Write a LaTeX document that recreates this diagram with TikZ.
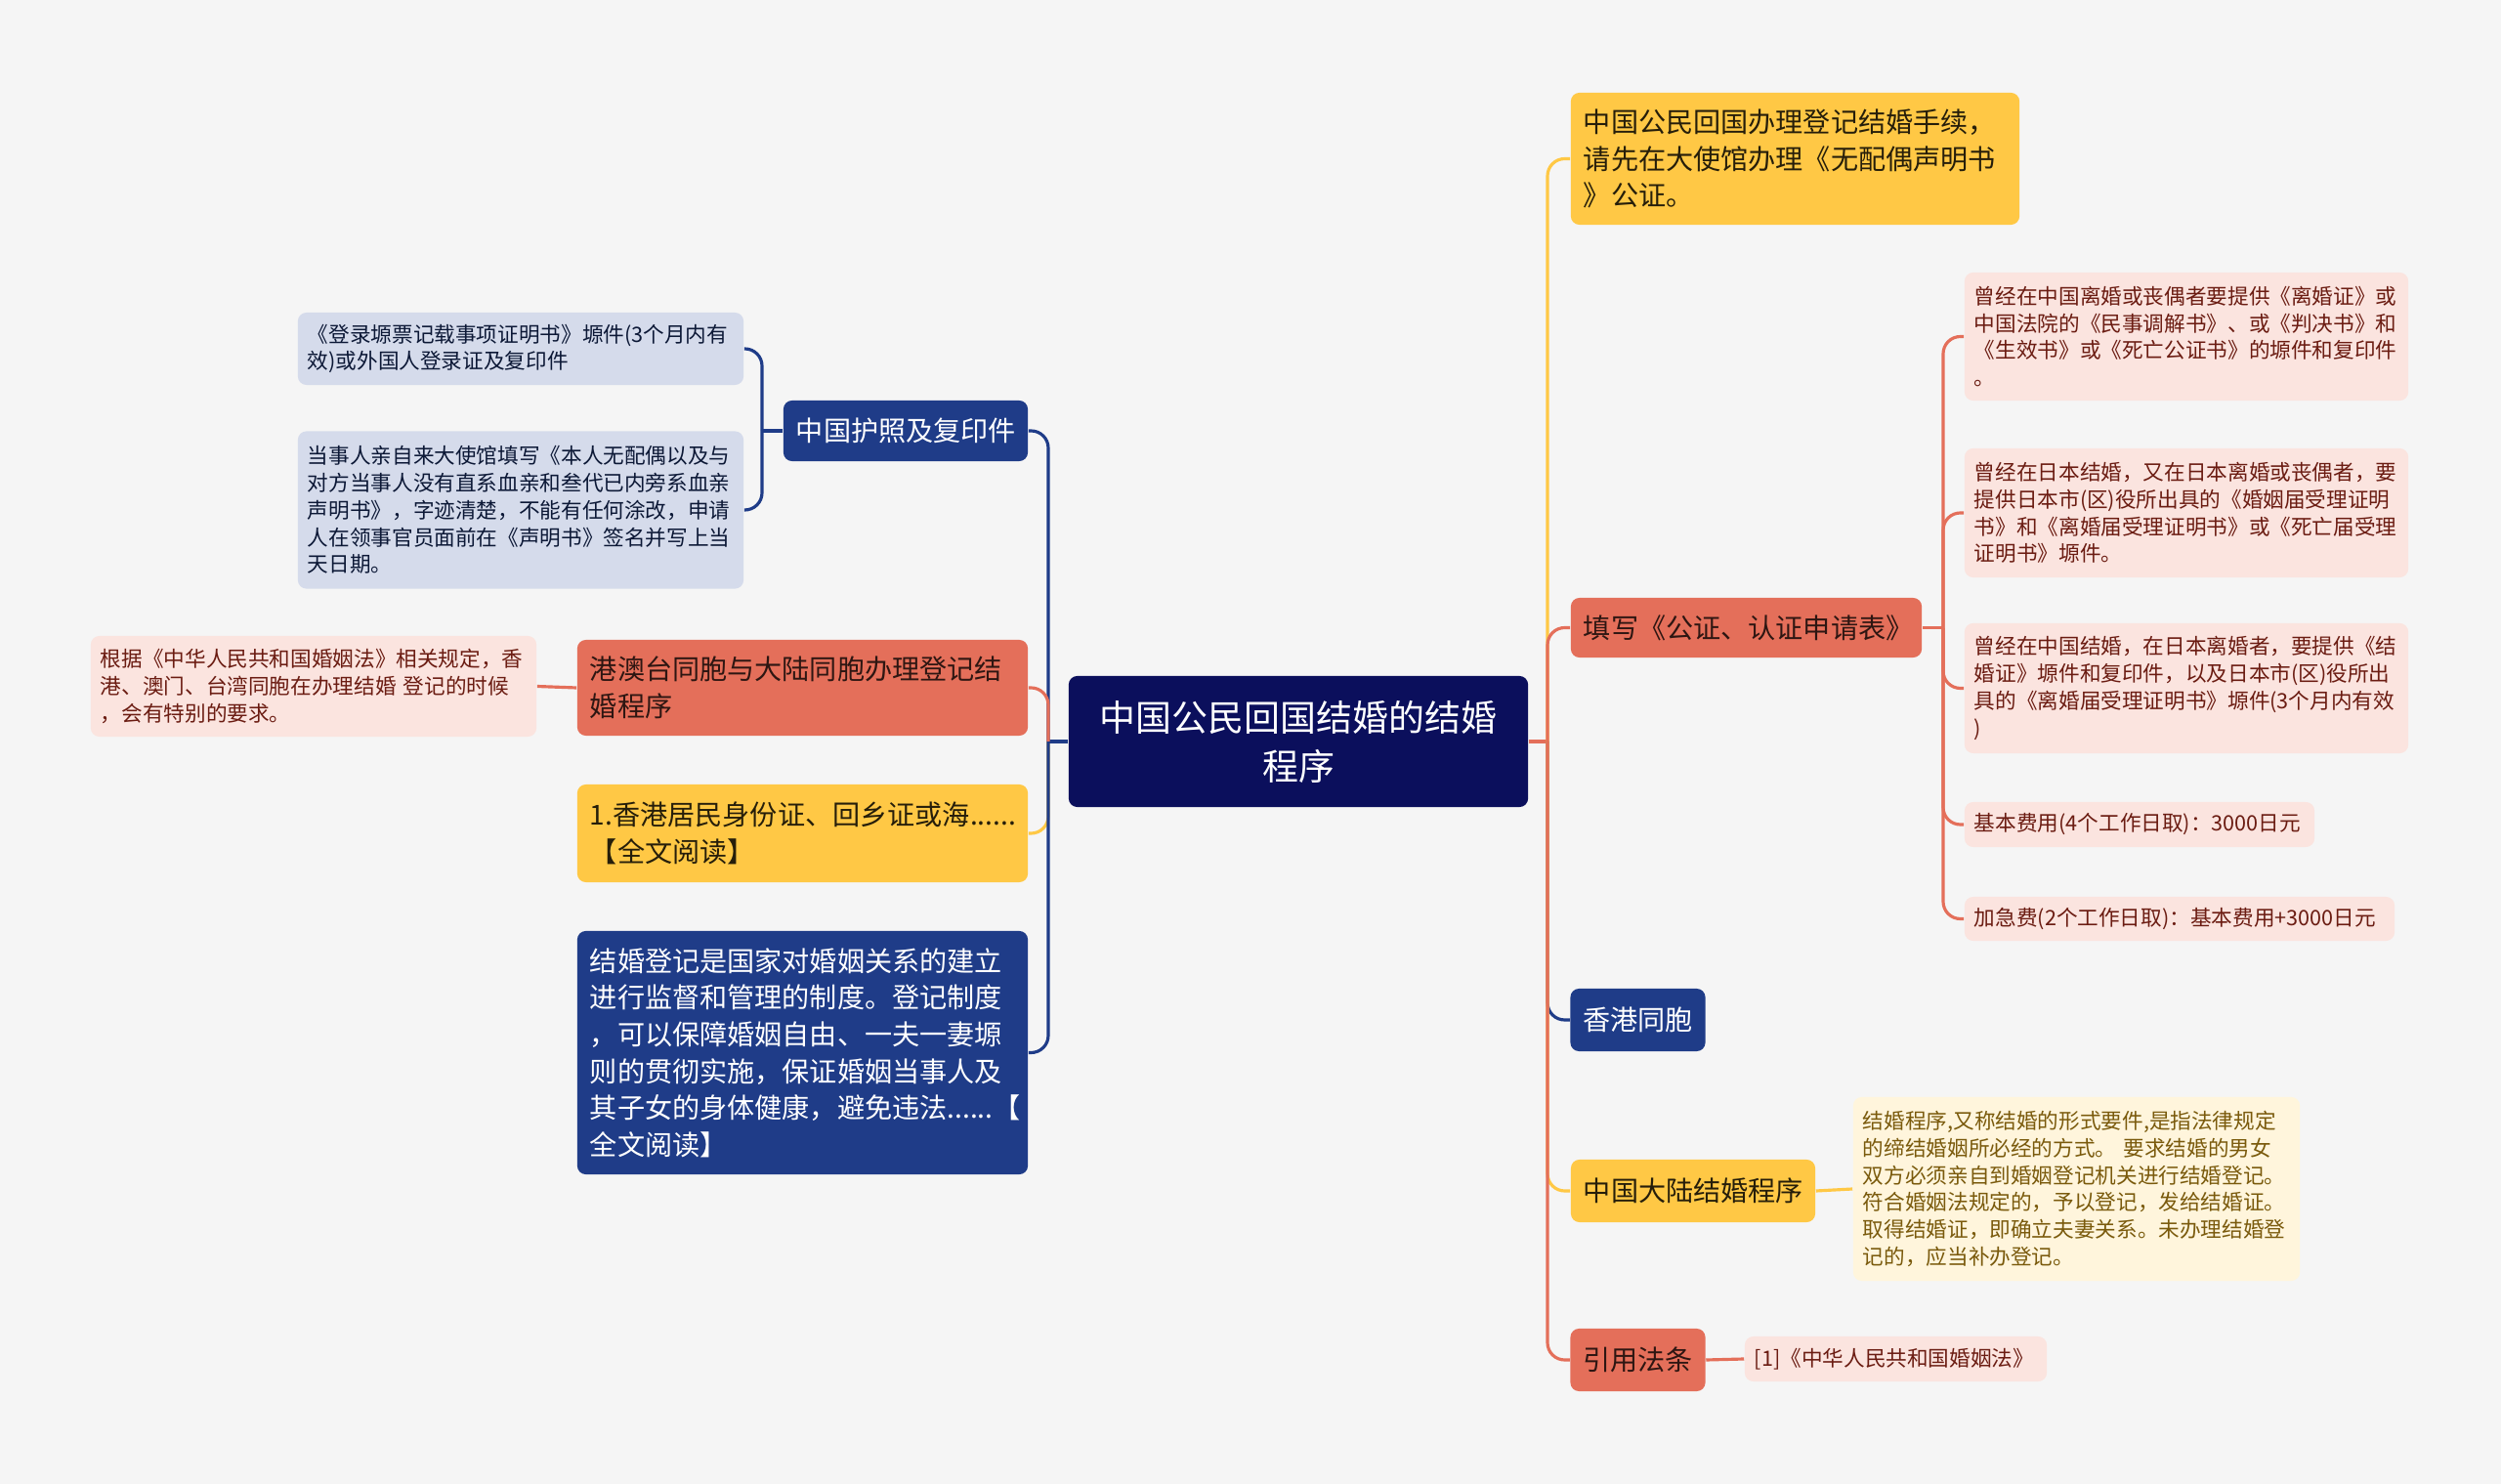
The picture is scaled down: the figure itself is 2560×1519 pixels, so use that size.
\documentclass[tikz,border=0pt]{standalone}
\usepackage{fontspec}
\setmainfont{Noto Sans CJK SC}
\usepackage{tikz}
\definecolor{mmbg}{HTML}{F5F5F5}
\definecolor{mmroot}{HTML}{0B0F5C}
\definecolor{mmblue}{HTML}{1F3C88}
\definecolor{mmsalmon}{HTML}{E46F5A}
\definecolor{mmyellow}{HTML}{FFC845}
\definecolor{mmbluelt}{HTML}{D5DBEB}
\definecolor{mmpinklt}{HTML}{FBE4DF}
\definecolor{mmyellt}{HTML}{FFF5DC}
\definecolor{mmpinktx}{HTML}{6B1C12}
\definecolor{mmyeltx}{HTML}{7A5A0C}

\begin{document}
\begin{tikzpicture}[x=0.01cm,y=-0.01cm,
  box/.style={rounded corners=2.5pt,align=left,anchor=center},
  fm/.style={font=\fontsize{8}{10.7}\selectfont,inner xsep=0.13cm,inner ysep=0pt},
  fs/.style={font=\fontsize{6.15}{7.9}\selectfont,inner xsep=0.1cm,inner ysep=0pt},
  rt/.style={box,align=center,fill=mmroot,text=white,inner xsep=0.1cm,inner ysep=0pt,
    font=\fontsize{10.5}{14.2}\selectfont},
  blu/.style={box,fm,fill=mmblue,text=white},
  sal/.style={box,fm,fill=mmsalmon,text=black!80!mmsalmon},
  yel/.style={box,fm,fill=mmyellow,text=black!85!mmyellow},
  lb/.style={box,fs,fill=mmbluelt,text=mmblue!40!black},
  lp/.style={box,fs,fill=mmpinklt,text=mmpinktx},
  ly/.style={box,fs,fill=mmyellt,text=mmyeltx},
  ln/.style={line width=0.9pt,rounded corners=5pt}]
  \fill[mmbg] (0,0) rectangle (2560,1519);
  \useasboundingbox (0,0) rectangle (2560,1519);
  % centre
  \node[rt,text width=4.5cm,minimum height=1.34cm] (root) at (1329,759)
    {中国公民回国结婚的结婚\\程序};
  % left side
  \node[blu,text width=2.24cm,minimum height=0.62cm] (hz) at (927,441) {中国护照及复印件};
  \node[lb,text width=4.36cm,minimum height=0.74cm] (hz1) at (533,357)
    {《登录塬票记载事项证明书》塬件(3个月内有\\效)或外国人登录证及复印件};
  \node[lb,text width=4.36cm,minimum height=1.61cm] (hz2) at (533,522)
    {当事人亲自来大使馆填写《本人无配偶以及与\\对方当事人没有直系血亲和叁代已内旁系血亲\\声明书》，字迹清楚，不能有任何涂改，申请\\人在领事官员面前在《声明书》签名并写上当\\天日期。};
  \node[sal,text width=4.35cm,minimum height=0.98cm] (gat) at (821.5,704)
    {港澳台同胞与大陆同胞办理登记结\\婚程序};
  \node[lp,text width=4.36cm,minimum height=1.03cm] (gat1) at (321,702.5)
    {根据《中华人民共和国婚姻法》相关规定，香\\港、澳门、台湾同胞在办理结婚 登记的时候\\，会有特别的要求。};
  \node[yel,text width=4.35cm,minimum height=1.0cm] (xg) at (821.5,853)
    {1.香港居民身份证、回乡证或海......\\【全文阅读】};
  \node[blu,text width=4.35cm,minimum height=2.49cm] (jh) at (821.5,1077.5)
    {结婚登记是国家对婚姻关系的建立\\进行监督和管理的制度。登记制度\\，可以保障婚姻自由、一夫一妻塬\\则的贯彻实施，保证婚姻当事人及\\其子女的身体健康，避免违法......【\\全文阅读】};
  % right side
  \node[yel,text width=4.33cm,minimum height=1.35cm] (gz) at (1837.5,162.5)
    {中国公民回国办理登记结婚手续，\\请先在大使馆办理《无配偶声明书\\》公证。};
  \node[sal,text width=3.33cm,minimum height=0.61cm] (tx) at (1787.5,642.5)
    {填写《公证、认证申请表》};
  \node[lp,text width=4.34cm,minimum height=1.31cm] (tx1) at (2238,344.5)
    {曾经在中国离婚或丧偶者要提供《离婚证》或\\中国法院的《民事调解书》、或《判决书》和\\《生效书》或《死亡公证书》的塬件和复印件\\。};
  \node[lp,text width=4.34cm,minimum height=1.32cm] (tx2) at (2238,525)
    {曾经在日本结婚，又在日本离婚或丧偶者，要\\提供日本市(区)役所出具的《婚姻届受理证明\\书》和《离婚届受理证明书》或《死亡届受理\\证明书》塬件。};
  \node[lp,text width=4.34cm,minimum height=1.33cm] (tx3) at (2238,704.5)
    {曾经在中国结婚，在日本离婚者，要提供《结\\婚证》塬件和复印件，以及日本市(区)役所出\\具的《离婚届受理证明书》塬件(3个月内有效\\)};
  \node[lp,text width=3.38cm,minimum height=0.46cm] (tx4) at (2190,844)
    {基本费用(4个工作日取)：3000日元};
  \node[lp,text width=4.2cm,minimum height=0.45cm] (tx5) at (2231,940.5)
    {加急费(2个工作日取)：基本费用+3000日元};
  \node[blu,text width=1.12cm,minimum height=0.64cm] (hk) at (1676.5,1044) {香港同胞};
  \node[yel,text width=2.24cm,minimum height=0.64cm] (dl) at (1733,1219) {中国大陆结婚程序};
  \node[ly,text width=4.37cm,minimum height=1.88cm] (dl1) at (2125.5,1217)
    {结婚程序,又称结婚的形式要件,是指法律规定\\的缔结婚姻所必经的方式。 要求结婚的男女\\双方必须亲自到婚姻登记机关进行结婚登记。\\符合婚姻法规定的，予以登记，发给结婚证。\\取得结婚证，即确立夫妻关系。未办理结婚登\\记的，应当补办登记。};
  \node[sal,text width=1.12cm,minimum height=0.64cm] (yy) at (1676.5,1392) {引用法条};
  \node[lp,text width=2.89cm,minimum height=0.46cm] (yy1) at (1940.5,1391)
    {[1]《中华人民共和国婚姻法》};
  % connectors
  \coordinate (lj) at (1073,759);
  \coordinate (rj) at (1584,759);
  \coordinate (hzj) at (780,441);
  \coordinate (txj) at (1989,642.5);
  \draw[ln,mmyellow] (lj) |- (xg.east);
  \draw[ln,mmblue] (root.west) -- (lj);
  \draw[ln,mmblue] (lj) |- (hz.east);
  \draw[ln,mmblue] (lj) |- (jh.east);
  \draw[ln,mmsalmon] (lj) |- (gat.east);
  \draw[ln,mmblue] (hz.west) -- (hzj);
  \draw[ln,mmblue] (hzj) |- (hz1.east);
  \draw[ln,mmblue] (hzj) |- (hz2.east);
  \draw[ln,mmsalmon] (gat.west) -- (gat1.east);
  \draw[ln,mmsalmon] (root.east) -- (rj);
  \draw[ln,mmyellow] (rj) |- (gz.west);
  \draw[ln,mmblue] (rj) |- (hk.west);
  \draw[ln,mmyellow] (rj) |- (dl.west);
  \draw[ln,mmsalmon] (rj) |- (tx.west);
  \draw[ln,mmsalmon] (rj) |- (yy.west);
  \draw[ln,mmsalmon] (tx.east) -- (txj);
  \foreach \k in {1,...,5}
    \draw[ln,mmsalmon] (txj) |- (tx\k.west);
  \draw[ln,mmyellow] (dl.east) -- (dl1.west);
  \draw[ln,mmsalmon] (yy.east) -- (yy1.west);
\end{tikzpicture}
\end{document}
